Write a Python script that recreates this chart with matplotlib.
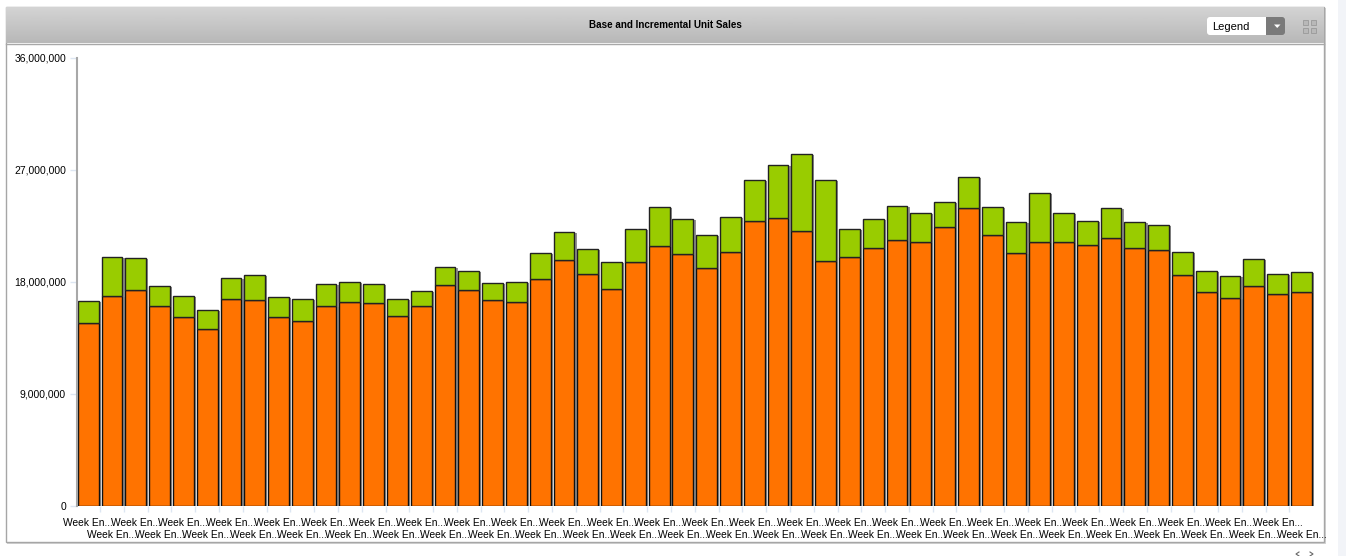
import numpy as np
import matplotlib
matplotlib.use("Agg")
import matplotlib.pyplot as plt
from matplotlib.patches import FancyBboxPatch, Rectangle, Polygon
import matplotlib.patheffects as pe
from matplotlib.ticker import FuncFormatter

plt.rcParams['font.family'] = ['Liberation Sans', 'DejaVu Sans']

title = "Base and Incremental Unit Sales"
week_label = "Week En..."

# unit sales in millions
base_sales = [14.67, 16.84, 17.32, 16.04, 15.15, 14.19, 16.60, 16.52, 15.15, 14.83, 16.04, 16.36, 16.28,
              15.23, 16.04, 17.72, 17.32, 16.52, 16.36, 18.20, 19.72, 18.60, 17.40, 19.56, 20.85, 20.21,
              19.08, 20.37, 22.85, 23.09, 22.05, 19.64, 19.96, 20.69, 21.33, 21.17, 22.37, 23.89, 21.73,
              20.29, 21.17, 21.17, 20.93, 21.49, 20.69, 20.53, 18.52, 17.16, 16.68, 17.64, 17.00, 17.16]
incremental_sales = [1.77, 3.12, 2.56, 1.60, 1.69, 1.53, 1.68, 2.00, 1.61, 1.77, 1.76, 1.60, 1.52,
                     1.37, 1.20, 1.44, 1.52, 1.36, 1.60, 2.09, 2.25, 2.01, 2.16, 2.65, 3.12, 2.80,
                     2.65, 2.80, 3.29, 4.25, 6.17, 6.50, 2.25, 2.32, 2.72, 2.32, 2.00, 2.49, 2.24,
                     2.48, 3.93, 2.32, 1.92, 2.40, 2.08, 2.00, 1.85, 1.68, 1.76, 2.16, 1.60, 1.60]
y_ticks = [0, 9000000, 18000000, 27000000, 36000000]

W, H = 1346, 556
fig = plt.figure(figsize=(W / 100, H / 100), dpi=100, facecolor='white')

# page furniture, in pixel coordinates
bg = fig.add_axes([0, 0, 1, 1])
bg.set_xlim(0, W)
bg.set_ylim(H, 0)
bg.axis('off')
bg.add_patch(Rectangle((1338, 0), 8, H, color='#f2f4f8', lw=0))
bg.add_patch(Rectangle((7, 8), 1319, 536, color='#d4d4d4', lw=0))
bg.add_patch(Rectangle((5.5, 6.5), 1318, 535.5, fc='white', ec='#a6a6a6', lw=1))
grad = np.linspace(0.83, 0.72, 64).reshape(-1, 1)
bg.imshow(grad, cmap='gray', vmin=0, vmax=1, extent=(6, 1323.5, 43, 7), aspect='auto', zorder=2)
bg.plot([6, 1323.5], [43.5, 43.5], color='#a8a8a8', lw=1, zorder=3)
bg.set_xlim(0, W)
bg.set_ylim(H, 0)
bg.text(665, 24.5, title, fontsize=7.15, fontweight='bold', ha='center', va='center', color='black', zorder=4)

# legend dropdown
btn = np.linspace(0.62, 0.42, 32).reshape(-1, 1)
bg.add_patch(FancyBboxPatch((1209, 17), 76, 18, boxstyle='round,pad=0,rounding_size=3',
                            fc='#7a7a7a', ec='none', zorder=4))
bg.add_patch(FancyBboxPatch((1207, 17), 58, 18, boxstyle='round,pad=0,rounding_size=3',
                            fc='white', ec='none', zorder=5))
bg.add_patch(Rectangle((1260, 17), 5.5, 18, fc='white', ec='none', zorder=5))
bg.add_patch(Polygon([[1274, 24.5], [1280.5, 24.5], [1277.2, 28]], fc='white', ec='none', zorder=6))
bg.text(1212, 26.5, "Legend", fontsize=8, ha='left', va='center', zorder=6)

# expand icon
for px, py in [(1303, 20), (1311, 20), (1303, 28), (1311, 28)]:
    bg.add_patch(Rectangle((px, py), 5, 5, fc='#b8b8b8', ec='#999999', lw=0.6, zorder=4))

# scroll arrows under the panel
bg.plot([1299, 1296, 1299], [552, 554, 556], color='#666666', lw=0.8)
bg.plot([1310, 1313, 1310], [552, 554, 556], color='#666666', lw=0.8)

# chart
left, right, top, bottom = 77, 1314, 57.5, 506
ax = fig.add_axes([left / W, 1 - bottom / H, (right - left) / W, (bottom - top) / H])
ax.patch.set_alpha(0)

x = np.arange(len(base_sales))
base_units = np.array(base_sales) * 1e6
incremental_units = np.array(incremental_sales) * 1e6

shadow = [pe.SimplePatchShadow(offset=(1.6, -0.6), shadow_rgbFace='#666666', alpha=0.7), pe.Normal()]
bars_base = ax.bar(x, base_units, width=0.875, color='#ff7300', edgecolor='#111111', linewidth=1.0)
bars_incr = ax.bar(x, incremental_units, bottom=base_units, width=0.875, color='#99cc00',
                   edgecolor='#222222', linewidth=1.0)
for b in list(bars_base) + list(bars_incr):
    b.set_path_effects(shadow)

ax.set_xlim(-0.47, len(x) - 0.47)
ax.set_ylim(0, 36000000)

ax.set_yticks(y_ticks)
ax.yaxis.set_major_formatter(FuncFormatter(lambda v, pos: f"{int(v):,}"))
ax.tick_params(axis='y', length=5, width=1, color='#dde6f2', labelsize=7.5, pad=2.9)
for lab in ax.get_yticklabels():
    lab.set_verticalalignment('center_baseline')

ax.set_xticks(x)
ax.set_xticklabels([week_label] * len(x))
ax.tick_params(axis='x', which='major', length=0, labelsize=7.4, pad=9)
# labels alternate between two rows
for i, tick in enumerate(ax.xaxis.get_major_ticks()):
    tick.set_pad(9 if i % 2 == 0 else 17.6)
ax.set_xticks(x[:-1] + 0.5, minor=True)
ax.tick_params(axis='x', which='minor', length=4.5, width=1, color='#dde6f2')

for side in ['top', 'right']:
    ax.spines[side].set_visible(False)
ax.spines['left'].set_color('#a8a8a8')
ax.spines['left'].set_linewidth(1.5)
ax.spines['bottom'].set_visible(False)

fig.savefig('out.png', dpi=100)
